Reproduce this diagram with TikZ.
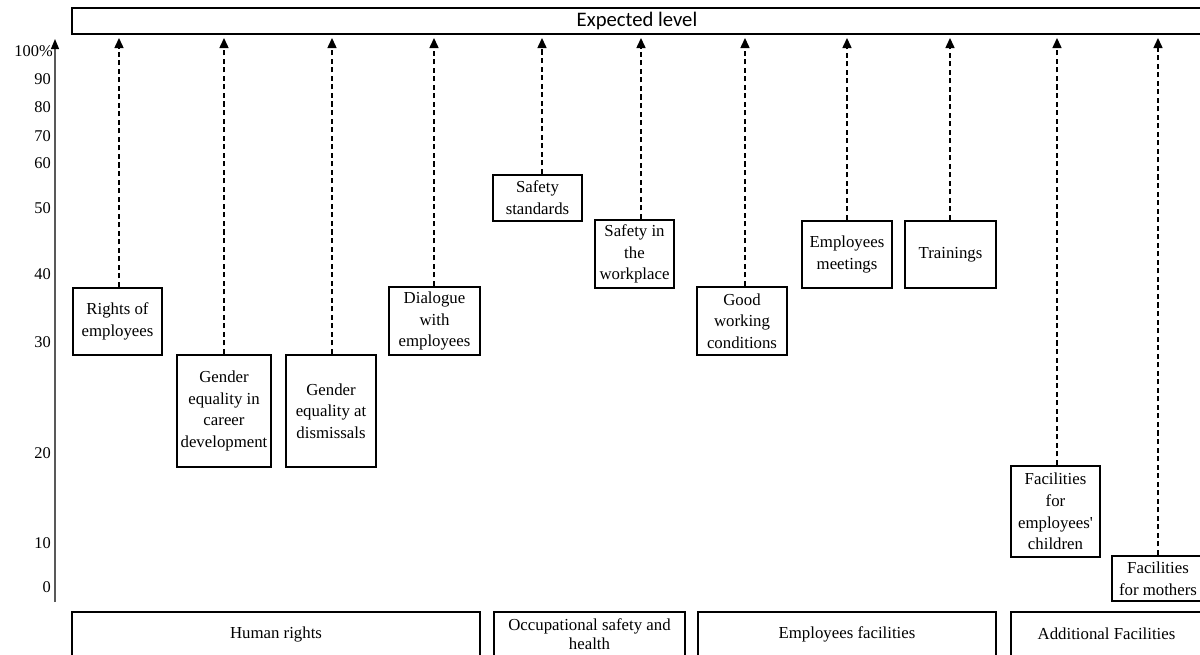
\documentclass[tikz,border=0pt]{standalone}
\usepackage{fontspec}
\setmainfont{Liberation Serif}
\newfontfamily\barfont{Carlito}
\usetikzlibrary{arrows.meta}
\tikzset{
  factor/.style={draw, line width=1.5pt, inner sep=0pt, align=center,
    font=\fontsize{12.6}{16.3}\selectfont},
  sz/.style n args={2}{minimum width=#1*0.75pt, minimum height=#2*0.75pt},
  conn/.style={line width=0.95pt, dash pattern=on 3.8pt off 2.6pt,
    -{Triangle[length=7.5pt,width=6.8pt]}},
  yaxis/.style={line width=0.8pt, draw=black!65,
    -{Triangle[length=7.5pt,width=6pt,color=black,fill=black]}},
  scalelabel/.style={anchor=east, inner sep=0pt, font=\fontsize{12.3}{14}\selectfont}
}
\begin{document}
\begin{tikzpicture}[x=0.75pt,y=-0.75pt]
\useasboundingbox (0,0) rectangle (1200,654);
\clip (0,0) rectangle (1200,654);

% expected level bar
\node[factor, sz={1130}{26}, font=\barfont\fontsize{15.5}{18}\selectfont] (bar) at (637,21) {Expected level};
\coordinate (tip) at (0,38);

% vertical scale
\coordinate (ax0) at (55,602);
\coordinate (ax1) at (55,39);
\draw[yaxis] (ax0) -- (ax1);
\node[scalelabel] (l100) at (53,51) {100\%};
\node[scalelabel] (l90) at (51,79) {90};
\node[scalelabel] (l80) at (51,107) {80};
\node[scalelabel] (l70) at (51,136) {70};
\node[scalelabel] (l60) at (51,163) {60};
\node[scalelabel] (l50) at (51,208) {50};
\node[scalelabel] (l40) at (51,274) {40};
\node[scalelabel] (l30) at (51,342) {30};
\node[scalelabel] (l20) at (51,453) {20};
\node[scalelabel] (l10) at (51,543) {10};
\node[scalelabel] (l0) at (51,587) {0};

% factors
\node[factor, sz={89}{67}] (b1) at (117.5,321.5) {Rights of\\employees};
\node[factor, sz={94}{112}] (b2) at (224,411) {Gender\\equality in\\career\\development};
\node[factor, sz={90}{112}] (b3) at (331,411) {Gender\\equality at\\dismissals};
\node[factor, sz={91}{68}] (b4) at (434.5,321) {Dialogue\\with\\employees};
\node[factor, sz={89}{46}] (b5) at (537.5,198) {Safety\\standards};
\node[factor, sz={79}{68}] (b6) at (634.5,254) {Safety in\\the\\workplace};
\node[factor, sz={90}{68}] (b7) at (742,321) {Good\\working\\conditions};
\node[factor, sz={90}{67}] (b8) at (847,254.5) {Employees\\meetings};
\node[factor, sz={91}{67}] (b9) at (950.5,254.5) {Trainings};
\node[factor, sz={89}{91}] (b10) at (1055.5,511.5) {Facilities\\for\\employees\textquotesingle\\children};
\node[factor, sz={92}{45}] (b11) at (1158,578.5) {Facilities\\for mothers};

% connectors to the expected level
\foreach \b/\d in {b1/1.5, b2/0, b3/1, b4/-0.5, b5/4.5, b6/6.5, b7/3, b8/0, b9/-0.5, b10/1.5, b11/0}{
  \path (\b.north) ++(\d,0) coordinate (s-\b);
  \draw[conn] (s-\b) -- (s-\b |- tip);
}

% categories
\node[factor, sz={408}{44}] (g1) at (276,634) {Human rights};
\node[factor, sz={191}{44}, font=\fontsize{12.6}{14.3}\selectfont] (g2) at (589.5,634) {Occupational safety and\\health};
\node[factor, sz={298}{44}] (g3) at (847,634) {Employees facilities};
\node[factor, sz={191}{44}] (g4) at (1106.5,634) {Additional Facilities};
\end{tikzpicture}
\end{document}
